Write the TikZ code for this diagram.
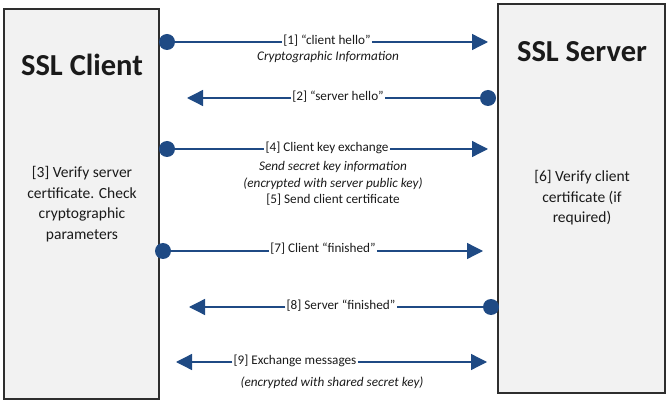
\documentclass[tikz,border=0pt]{standalone}
\usepackage{fontspec}
\setmainfont{Carlito}
\usetikzlibrary{arrows.meta}
\definecolor{navy1}{HTML}{1F4A84}
\definecolor{panel}{HTML}{F2F2F2}
\definecolor{ink}{HTML}{1A1A1A}
\definecolor{rule}{HTML}{2E2E2E}

\begin{document}
\begin{tikzpicture}[x=1pt,y=-1pt,
  partybox/.style={draw=rule,line width=1.3pt,fill=panel},
  titletext/.style={font=\bfseries\fontsize{30.5}{32}\selectfont,color=ink},
  bodytext/.style={font=\fontsize{15.5}{20.5}\selectfont,color=ink,align=center},
  msgtext/.style={font=\fontsize{13.2}{16}\selectfont,color=ink,inner sep=1pt},
  notetext/.style={font=\itshape\fontsize{13.2}{16}\selectfont,color=ink},
  enddot/.style={circle,fill=navy1,inner sep=0pt,minimum size=16pt},
  wire/.style={navy1,line width=1.3pt},
  wirearrow/.style={wire,-{Triangle[length=16pt,width=16pt]}}]
  \useasboundingbox (0,0) rectangle (669,403);
  % the two parties
  \draw[partybox] (4,9) rectangle (159,399);
  \draw[partybox] (498,4) rectangle (665,393);
  \node[titletext] (clienttitle) at (82,65) {SSL Client};
  \node[titletext] (servertitle) at (582,52) {SSL Server};
  \node[bodytext] (clientstep) at (82,204)
       {[3] Verify server\\certificate. Check\\cryptographic\\parameters};
  \node[bodytext] (serverstep) at (582,198)
       {[6] Verify client\\certificate (if\\required)};
  % [1] client hello
  \node[enddot] (d1) at (167,42) {};
  \coordinate (a1) at (488,42);
  \node[msgtext] (m1) at (327,41) {[1] “client hello”};
  \draw[wire] (d1) -- (d1 -| m1.west);
  \draw[wirearrow] (a1 -| m1.east) -- (a1);
  \node[notetext] (n1) at (328,57) {Cryptographic Information};
  % [2] server hello
  \node[enddot] (d2) at (488,98) {};
  \coordinate (a2) at (187,98);
  \node[msgtext] (m2) at (338,97) {[2] “server hello”};
  \draw[wire] (d2) -- (d2 -| m2.east);
  \draw[wirearrow] (a2 -| m2.west) -- (a2);
  % [4] key exchange, [5] client certificate
  \node[enddot] (d4) at (167,149) {};
  \coordinate (a4) at (488,149);
  \node[msgtext] (m4) at (327,148) {[4] Client key exchange};
  \draw[wire] (d4) -- (d4 -| m4.west);
  \draw[wirearrow] (a4 -| m4.east) -- (a4);
  \node[notetext] (n4a) at (333,167) {Send secret key information};
  \node[notetext] (n4b) at (333,184) {(encrypted with server public key)};
  \node[msgtext] (m5) at (333,200) {[5] Send client certificate};
  % [7] client finished
  \node[enddot] (d7) at (163,251) {};
  \coordinate (a7) at (483,251);
  \node[msgtext] (m7) at (323,249) {[7] Client “finished”};
  \draw[wire] (d7) -- (d7 -| m7.west);
  \draw[wirearrow] (a7 -| m7.east) -- (a7);
  % [8] server finished
  \node[enddot] (d8) at (491,307) {};
  \coordinate (a8) at (189,307);
  \node[msgtext] (m8) at (341,306) {[8] Server “finished”};
  \draw[wire] (d8) -- (d8 -| m8.east);
  \draw[wirearrow] (a8 -| m8.west) -- (a8);
  % [9] both ways
  \coordinate (l9) at (176,362);
  \coordinate (r9) at (487,362);
  \node[msgtext] (m9) at (295,361) {[9] Exchange messages};
  \draw[wirearrow] (l9 -| m9.west) -- (l9);
  \draw[wirearrow] (r9 -| m9.east) -- (r9);
  \node[notetext] (n9) at (332,383) {(encrypted with shared secret key)};
\end{tikzpicture}
\end{document}
